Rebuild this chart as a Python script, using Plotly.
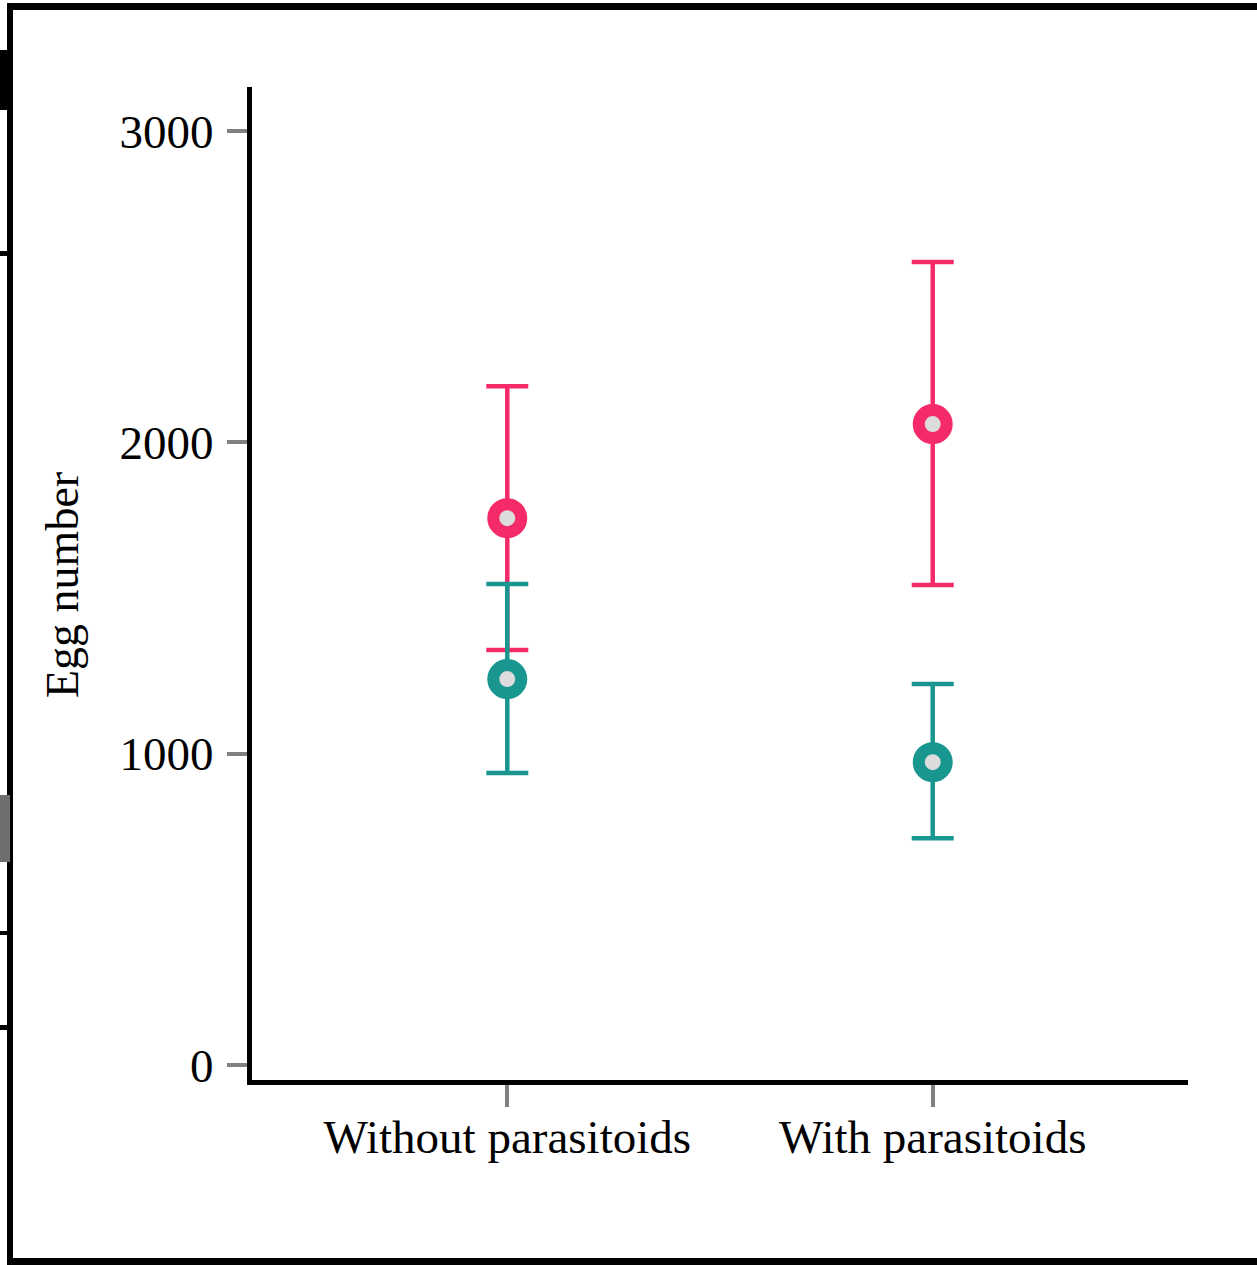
import plotly.graph_objects as go

categories = ["Without parasitoids", "With parasitoids"]

pink_mean = [1757, 2059]
pink_upper = [2181, 2580]
pink_lower = [1333, 1542]

teal_mean = [1240, 973]
teal_upper = [1545, 1224]
teal_lower = [938, 729]

y_ticks = [0, 1000, 2000, 3000]

PINK = "#F52A68"
TEAL = "#18968F"
FILL = "#DCDCDC"
FONT = "Liberation Serif"

fig = go.Figure()


def add_series(mean, upper, lower, color):
    plus = [u - m for u, m in zip(upper, mean)]
    minus = [m - l for m, l in zip(mean, lower)]
    fig.add_trace(go.Scatter(
        x=categories, y=mean, mode="markers",
        marker=dict(symbol="circle", size=28, color=FILL,
                    line=dict(color=color, width=12)),
        error_y=dict(type="data", array=plus, arrayminus=minus,
                     color=color, thickness=4.5, width=21),
        showlegend=False,
    ))


add_series(pink_mean, pink_upper, pink_lower, PINK)
add_series(teal_mean, teal_upper, teal_lower, TEAL)


# page frame (from cropped source image)
def px_x(p):
    return (p - 252) / 936


def px_y(p):
    return (1080 - p) / 993


frame = [
    (7, 3, 1262, 10, "black"),      # top
    (7, 3, 13, 1266, "black"),      # left
    (7, 1258, 1262, 1266, "black"),  # bottom
    (0, 50, 13, 110, "black"),      # left artifacts
    (0, 251, 13, 256, "black"),
    (0, 931, 13, 935, "black"),
    (0, 1025, 13, 1030, "black"),
    (0, 795, 10, 862, "#6e6e6e"),
]
shapes = []
for x0, y0, x1, y1, c in frame:
    shapes.append(dict(type="rect", xref="paper", yref="paper",
                       x0=px_x(x0), x1=px_x(x1), y0=px_y(y1), y1=px_y(y0),
                       fillcolor=c, line=dict(width=0), layer="above"))

fig.update_layout(
    width=1257, height=1265,
    margin=dict(l=252, r=69, t=87, b=185),
    paper_bgcolor="white", plot_bgcolor="white",
    font=dict(family=FONT, size=47, color="black"),
    shapes=shapes,
    annotations=[dict(text="Egg number", textangle=-90, xref="paper", yref="paper",
                      x=px_x(62), y=px_y(585), xanchor="center", yanchor="middle",
                      showarrow=False, font=dict(family=FONT, size=46, color="black"))],
)

fig.update_xaxes(
    type="category", range=[-0.6, 1.6],
    showline=True, linecolor="black", linewidth=5,
    showgrid=False, zeroline=False,
    ticks="outside", ticklen=22, tickwidth=4, tickcolor="#808080",
    ticklabelstandoff=-10,
    tickfont=dict(family=FONT, size=47, color="black"),
)
fig.update_yaxes(
    range=[-48, 3142], tickvals=y_ticks, ticktext=[str(v) for v in y_ticks],
    showline=True, linecolor="black", linewidth=5,
    showgrid=False, zeroline=False,
    ticks="outside", ticklen=20, tickwidth=4, tickcolor="#808080",
    ticklabelstandoff=4,
    tickfont=dict(family=FONT, size=47, color="black"),
)

fig.write_html("out.html",
               config={"displayModeBar": False},
               post_script="document.body.style.margin='0px';document.body.style.overflow='hidden';")
